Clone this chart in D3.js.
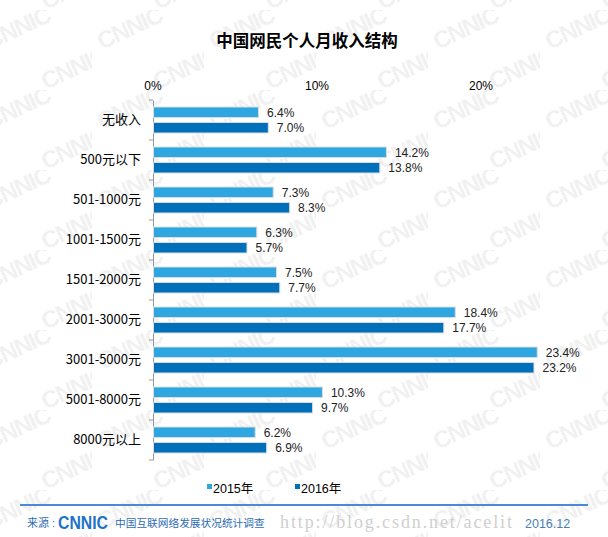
<!DOCTYPE html>
<html><head><meta charset="utf-8">
<script src="https://cdn.jsdelivr.net/npm/d3@7"></script>
<style>body{margin:0;background:#fff;}svg{display:block;}</style>
</head><body>
<svg id="c" width="608" height="537"></svg>
<script>
const categories = ["无收入","500元以下","501-1000元","1001-1500元","1501-2000元","2001-3000元","3001-5000元","5001-8000元","8000元以上"];
const series = ["2015年","2016年"];
const values2015 = [6.4,14.2,7.3,6.3,7.5,18.4,23.4,10.3,6.2];
const values2016 = [7.0,13.8,8.3,5.7,7.7,17.7,23.2,9.7,6.9];
const xTicks = [0,10,20];
const colors = ["#2EA7E0","#0070BA"];
const font = "'Liberation Sans','Noto Sans CJK SC',Arial,sans-serif";
const cjk = "'Noto Sans CJK SC',sans-serif";

const svg = d3.select("#c");
// background watermark
const defs = svg.append("defs");
const pat = defs.append("pattern").attr("id","wm").attr("patternUnits","userSpaceOnUse")
  .attr("width",112).attr("height",80).attr("x",-20).attr("y",10);
[[10,40],[66,80],[66,0]].forEach(([x,y])=>{
  pat.append("text").attr("x",x).attr("y",y).attr("transform",`rotate(-25 ${x} ${y})`)
    .attr("font-family",font).attr("font-weight","bold").attr("font-size",24)
    .attr("fill","#f1f1f1").attr("letter-spacing",-1.5).text("CNNIC");
});
svg.append("rect").attr("width",608).attr("height",537).attr("fill","url(#wm)");

svg.append("text").attr("x",307).attr("y",47).attr("text-anchor","middle")
  .attr("font-family",cjk).attr("font-weight","bold").attr("font-size",16.5)
  .attr("fill","#000").text("中国网民个人月收入结构");

const x = d3.scaleLinear().domain([0,20]).range([153,481]);
const y0 = d3.scaleBand().domain(categories).range([100,460]).paddingInner(0.35).paddingOuter(0.175);
const y1 = d3.scaleBand().domain(series).range([0,y0.bandwidth()]).paddingInner(0.32);

// top tick labels
svg.append("g").selectAll("text").data(xTicks).join("text")
  .attr("x",d=>x(d)).attr("y",90).attr("text-anchor","middle")
  .attr("font-family",font).attr("font-size",12).attr("fill","#000").text(d=>d+"%");

// left axis
const yAxisScale = d3.scaleBand().domain(categories).range([100,460]);
const ax = svg.append("g").attr("transform","translate(153,0)")
  .call(d3.axisLeft(yAxisScale).tickSize(0).tickPadding(12));
ax.select(".domain").attr("stroke","#999");
ax.selectAll(".tick text").attr("font-family",cjk).attr("font-size",13).attr("fill","#000");
// boundary tick marks
svg.append("g").selectAll("line").data(d3.range(categories.length+1)).join("line")
  .attr("x1",149).attr("x2",153)
  .attr("y1",i=>100+i*yAxisScale.step()).attr("y2",i=>100+i*yAxisScale.step())
  .attr("stroke","#999");

const data = categories.map((c,i)=>({c, v:[values2015[i],values2016[i]]}));
const g = svg.append("g").selectAll("g").data(data).join("g")
  .attr("transform",d=>`translate(0,${y0(d.c)})`);
series.forEach((s,si)=>{
  g.append("rect").attr("x",x(0)+0.5).attr("y",y1(s))
    .attr("width",d=>x(d.v[si])-x(0)).attr("height",y1.bandwidth())
    .attr("fill",colors[si]).attr("stroke","#dcdcdc").attr("stroke-width",1);
  g.append("text").attr("x",d=>x(d.v[si])+9).attr("y",y1(s)+y1.bandwidth()/2+4.5)
    .attr("font-family",font).attr("font-size",12).attr("fill","#222")
    .text(d=>d.v[si].toFixed(1)+"%");
});

// legend
const lg = svg.append("g");
const lx = [207,295];
series.forEach((s,i)=>{
  lg.append("rect").attr("x",lx[i]).attr("y",484).attr("width",5).attr("height",5).attr("fill",colors[i]);
  lg.append("text").attr("x",lx[i]+6).attr("y",493).attr("font-family",font).attr("font-size",12.5)
    .attr("fill","#000").text(s);
});

// footer
svg.append("line").attr("x1",20).attr("x2",588).attr("y1",505).attr("y2",505)
  .attr("stroke","#4A8AD6").attr("stroke-width",2);
svg.append("text").attr("x",27).attr("y",527).attr("font-family",cjk)
  .attr("font-size",11).attr("fill","#2E6DB4").text("来源");
svg.append("text").attr("x",52).attr("y",527).attr("font-family",font)
  .attr("font-size",11).attr("fill","#2E6DB4").text(":");
svg.append("text").attr("x",58).attr("y",529).attr("font-family","'Liberation Sans',Arial,sans-serif")
  .attr("font-weight","bold").attr("font-size",18).attr("fill","#1E73C8")
  .attr("textLength",50).attr("lengthAdjust","spacingAndGlyphs").text("CNNIC");
svg.append("text").attr("x",115).attr("y",527).attr("font-family",cjk)
  .attr("font-size",10.7).attr("fill","#2E6DB4").text("中国互联网络发展状况统计调查");
svg.append("text").attr("x",280).attr("y",528).attr("font-family","'Liberation Serif',serif")
  .attr("font-size",18).attr("fill","#cfcfcf").attr("textLength",232).text("http://blog.csdn.net/acelit");
svg.append("text").attr("x",525).attr("y",528).attr("font-family",font)
  .attr("font-size",12.5).attr("fill","#4A7FB8").text("2016.12");
</script>
</body></html>
